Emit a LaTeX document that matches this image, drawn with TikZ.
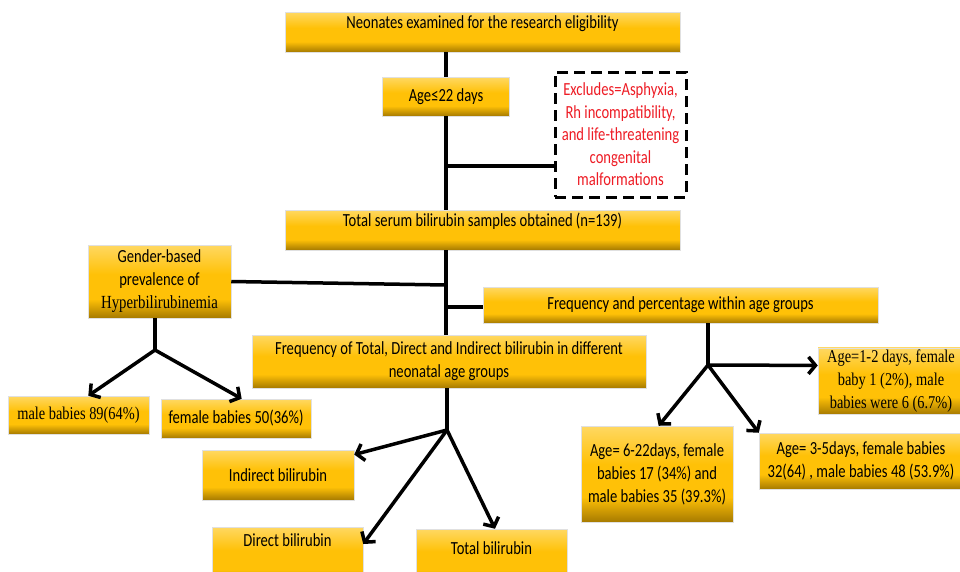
\documentclass[tikz,border=0pt]{standalone}
\usepackage{fontspec}
\setmainfont{Carlito}[FakeStretch=0.79]
\newfontfamily\timesfont{Liberation Serif}[FakeStretch=0.8]
\usetikzlibrary{arrows.meta}

\definecolor{goldtop}{HTML}{FFD862}
\definecolor{goldmid}{HTML}{FFC107}
\definecolor{goldlow}{HTML}{A67A00}
\definecolor{exclude red}{HTML}{EE1C25}

\pgfdeclareverticalshading{goldbox}{100bp}{color(0bp)=(goldlow); color(25bp)=(goldlow); color(38bp)=(goldmid); color(55bp)=(goldmid); color(75bp)=(goldtop); color(100bp)=(goldtop)}

\tikzstyle{stage}=[draw=black!12, line width=0.5pt, shading=goldbox, align=center, inner sep=2pt, font=\fontsize{18.5}{23}\selectfont]
\tikzstyle{serif stage}=[stage, font=\timesfont\fontsize{18}{23}\selectfont]
\tikzstyle{exclude}=[draw=black, line width=3pt, dash pattern=on 11pt off 6pt, fill=white, align=center, text=exclude red, font=\fontsize{18.5}{22.5}\selectfont]
\tikzstyle{link}=[line width=3.5pt, line join=round]
\tikzstyle{flow}=[line width=3.5pt, line join=round, -{Straight Barb[length=7pt,width=17pt]}]

\begin{document}
\begin{tikzpicture}[x=1pt, y=-1pt]
  \useasboundingbox (0,0) rectangle (960,571);

  % Screening column
  \node[stage, minimum width=395pt, minimum height=40pt, text height=13pt, text depth=21pt] (screen) at (482.5,32) {Neonates examined for the research eligibility};
  \node[stage, minimum width=127pt, minimum height=39pt] (age) at (446,96.5) {Age≤22 days};
  \node[exclude, minimum width=131pt, minimum height=125pt] (excl) at (620.5,134.5) {Excludes=Asphyxia,\\Rh incompatibility,\\and life-threatening\\congenital\\malformations};
  \node[stage, minimum width=395pt, minimum height=40pt, text height=13pt, text depth=21pt] (serum) at (482.5,230) {Total serum bilirubin samples obtained (n=139)};

  % Three analyses
  \node[stage, minimum width=143pt, minimum height=73pt] (gender) at (159.5,281.5) {Gender-based\\prevalence of\\{\timesfont Hyperbilirubinemia}};
  \node[stage, minimum width=395pt, minimum height=36pt] (agegroups) at (680.5,305) {Frequency and percentage within age groups};
  \node[stage, minimum width=394pt, minimum height=53pt] (fractions) at (449,361.5) {Frequency of Total, Direct and Indirect bilirubin in different\\neonatal age groups};

  \node[serif stage, minimum width=141pt, minimum height=38pt] (male) at (78.5,415) {male babies 89(64\%)};
  \node[stage, minimum width=150pt, minimum height=39pt] (female) at (236,418.5) {female babies 50(36\%)};

  \node[stage, minimum width=152pt, minimum height=50pt] (indirect) at (278,475) {Indirect bilirubin};
  \node[stage, minimum width=151pt, minimum height=58pt, text height=13pt, text depth=32pt] (direct) at (287.5,556) {Direct bilirubin};
  \node[stage, minimum width=151pt, minimum height=56pt, text height=13pt, text depth=18pt] (total) at (491.5,557) {Total bilirubin};

  \node[serif stage, minimum width=146pt, minimum height=66pt] (age12) at (891,381) {Age=1-2 days, female\\baby 1 (2\%), male\\babies were 6 (6.7\%)};
  \node[stage, minimum width=152pt, minimum height=96pt] (age622) at (657,474) {Age= 6-22days, female\\babies 17 (34\%) and\\male babies 35 (39.3\%)};
  \node[stage, minimum width=204pt, minimum height=56pt] (age35) at (861,461) {Age= 3-5days, female babies\\32(64) , male babies 48 (53.9\%)};

  % Spine
  \coordinate (exclJ) at (446,166);
  \coordinate (genderJ) at (446,285);
  \coordinate (groupsJ) at (446,307);
  \draw[link] (screen.south -| age) -- (age.north);
  \draw[link] (age.south) -- (serum.north -| age);
  \draw[link] (exclJ) -- (excl.west |- exclJ);
  \draw[link] (serum.south -| age) -- (fractions.north -| age);
  \draw[link] (gender.east) -- (genderJ);
  \draw[link] (groupsJ) -- (agegroups.west |- groupsJ);

  % Gender split
  \coordinate (genderSplit) at (155,350);
  \draw[link] (genderSplit |- gender.south) -- (genderSplit);
  \draw[flow] (genderSplit) -- (male.63);
  \draw[flow] (genderSplit) -- (female.74);

  % Bilirubin split
  \coordinate (fractionSplit) at (447,430);
  \draw[link] (fractionSplit |- fractions.south) -- (fractionSplit);
  \draw[flow] (fractionSplit) -- (indirect.15);
  \draw[flow] (fractionSplit) -- (direct.9);
  \draw[flow] (fractionSplit) -- (total.83);

  % Age split
  \coordinate (ageSplit) at (708,365);
  \draw[link] (ageSplit |- agegroups.south) -- (ageSplit);
  \draw[flow] (ageSplit) -- (age12.168);
  \draw[flow] (ageSplit) -- (age622.88);
  \draw[flow] (ageSplit) -- (age35.north west);
\end{tikzpicture}
\end{document}
